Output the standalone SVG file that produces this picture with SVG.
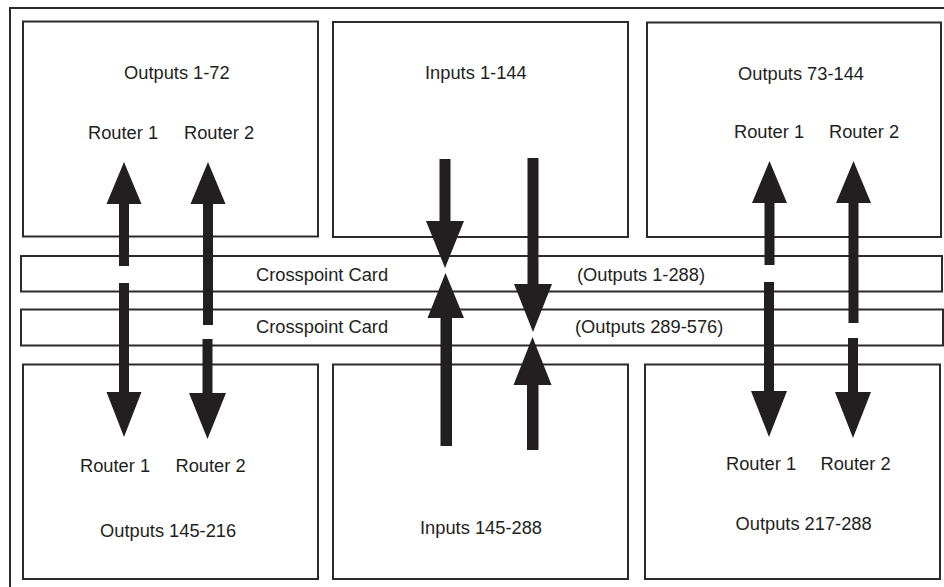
<svg xmlns="http://www.w3.org/2000/svg" width="944" height="587" viewBox="0 0 944 587">
<style>
.box{fill:#fff;stroke:#2b2b2b;stroke-width:2}
.t{font-family:"Liberation Sans",Arial,sans-serif;font-size:18.3px;fill:#231f20}
.ar{fill:#231f20}
</style>
<rect x="0" y="0" width="944" height="587" fill="#fff"/>
<g id="frame"><rect class="box" x="10" y="8" width="960" height="620"/></g>
<g id="outputs-1-72">
<rect class="box" x="23" y="21.5" width="295" height="215"/>
<text class="t" x="124" y="79">Outputs 1-72</text>
<text class="t" x="88" y="138.5">Router 1</text>
<text class="t" x="184" y="138.5">Router 2</text>
</g>
<g id="inputs-1-144">
<rect class="box" x="333" y="22" width="295" height="215"/>
<text class="t" x="425" y="79">Inputs 1-144</text>
</g>
<g id="outputs-73-144">
<rect class="box" x="647" y="22.5" width="294" height="214.5"/>
<text class="t" x="738" y="80">Outputs 73-144</text>
<text class="t" x="734" y="138">Router 1</text>
<text class="t" x="829" y="138">Router 2</text>
</g>
<g id="crosspoint-1">
<rect class="box" x="21" y="256" width="921" height="35.5"/>
<text class="t" x="256" y="280.5">Crosspoint Card</text>
<text class="t" x="577" y="280.5">(Outputs 1-288)</text>
</g>
<g id="crosspoint-2">
<rect class="box" x="21" y="309.5" width="922" height="36"/>
<text class="t" x="256" y="332.5">Crosspoint Card</text>
<text class="t" x="575" y="332.5">(Outputs 289-576)</text>
</g>
<g id="outputs-145-216">
<rect class="box" x="23" y="364.5" width="295" height="214.5"/>
<text class="t" x="80" y="471.5">Router 1</text>
<text class="t" x="175.5" y="471.5">Router 2</text>
<text class="t" x="100" y="536.5">Outputs 145-216</text>
</g>
<g id="inputs-145-288">
<rect class="box" x="333" y="364.5" width="295" height="214.5"/>
<text class="t" x="420" y="533.5">Inputs 145-288</text>
</g>
<g id="outputs-217-288">
<rect class="box" x="645" y="364.5" width="295" height="214.5"/>
<text class="t" x="726" y="470">Router 1</text>
<text class="t" x="820.5" y="470">Router 2</text>
<text class="t" x="735.5" y="530">Outputs 217-288</text>
</g>
<g id="connectors" class="ar">
<!-- left column -->
<polygon points="124,162 141.5,204 129,204 129,266 119,266 119,204 106.5,204"/>
<polygon points="119,283 129,283 129,392 141.5,392 124,437 106.5,392 119,392"/>
<polygon points="208,162 225.5,204 213,204 213,325 203,325 203,204 190.5,204"/>
<polygon points="202.5,339 212.5,339 212.5,393 226,393 207.5,439 189,393 202.5,393"/>
<!-- middle -->
<polygon points="439.5,159 450.5,159 450.5,221 464,221 445,268 426,221 439.5,221"/>
<polygon points="445.5,273 464,318 452,318 452,446 440.5,446 440.5,318 427.5,318"/>
<polygon points="527.5,158 538.5,158 538.5,284 552,284 533,332 514,284 527.5,284"/>
<polygon points="532.5,337 551.5,385 538.5,385 538.5,450 527,450 527,385 513.5,385"/>
<!-- right column -->
<polygon points="769.5,161 787,203 774.5,203 774.5,265 764.5,265 764.5,203 752,203"/>
<polygon points="764,282 774,282 774,391 787,391 769,437 751,391 764,391"/>
<polygon points="853.5,161 871,203 858.5,203 858.5,323 848.5,323 848.5,203 836,203"/>
<polygon points="848,338 858,338 858,392 871,392 853,438 835,392 848,392"/>
</g>
</svg>
